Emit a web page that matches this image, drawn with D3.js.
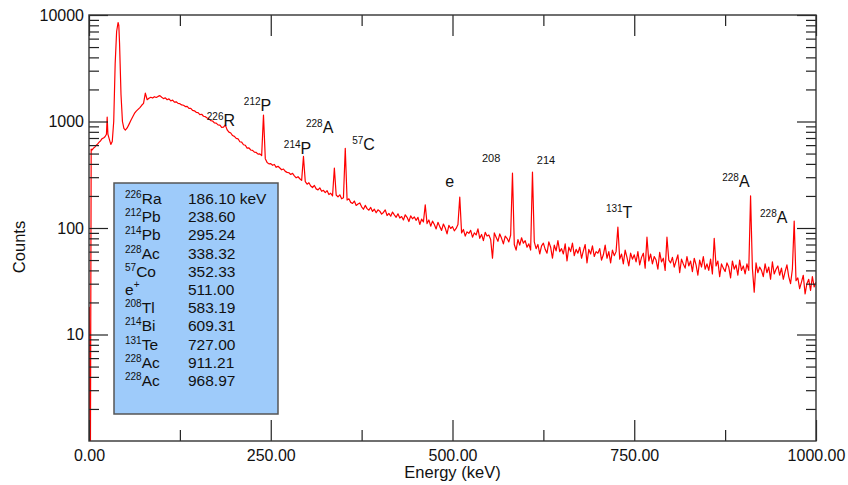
<!DOCTYPE html>
<html>
<head>
<meta charset="utf-8">
<script src="https://cdn.jsdelivr.net/npm/d3@7"></script>
<style>
  body { margin: 0; background: #fff; }
  text { font-family: Arial, "Liberation Sans", sans-serif; fill: #111; }
</style>
</head>
<body>
<script>
// low-energy part of the spectrum (uneven spacing, keV / counts)
const headEnergy = [0, 0.5, 1, 1.5, 2, 3, 4, 6, 8, 10, 12, 14, 16, 18, 20, 22, 24, 25, 26, 28, 30, 32, 34, 36, 38, 40, 41, 42, 44, 46, 48];
const headCounts = [1, 18, 3, 8, 1, 550, 540, 560, 575, 600, 615, 640, 660, 690, 700, 720, 760, 1100, 760, 680, 610, 650, 1000, 3500, 7000, 8500, 8000, 5500, 1800, 1000, 860];

// rest of the spectrum, one value every 2.5 keV from 50 keV
const bodyStart = 50;
const bodyStep = 2.5;
const bodyCounts = [
  830, 870, 940, 1020, 1100, 1190, 1250, 1300, 1350, 1420,
  1480, 1850, 1600, 1650, 1690, 1660, 1710, 1680, 1720, 1750,
  1690, 1640, 1670, 1600, 1630, 1560, 1590, 1520, 1530, 1480,
  1470, 1430, 1420, 1380, 1385, 1330, 1330, 1270, 1260, 1220,
  1210, 1160, 1170, 1120, 1110, 1080, 1060, 1020, 1010, 970,
  965, 930, 925, 880, 885, 930, 835, 795, 780, 738,
  725, 695, 688, 645, 640, 605, 598, 562, 566, 540,
  535, 515, 512, 494, 496, 478, 1150, 448, 412, 400,
  402, 388, 395, 371, 380, 366, 352, 358, 340, 333,
  330, 318, 326, 309, 296, 303, 290, 280, 470, 272,
  258, 266, 248, 240, 251, 233, 228, 238, 221, 226,
  215, 224, 206, 212, 200, 365, 204, 196, 205, 188,
  192, 560, 183, 188, 174, 170, 179, 163, 168, 172,
  158, 150, 163, 152, 147, 156, 143, 150, 139, 148,
  144, 135, 140, 148, 131, 137, 129, 141, 133, 126,
  136, 124, 128, 119, 133, 126, 115, 130, 122, 127,
  118, 126, 108, 121, 114, 165, 110, 119, 104, 116,
  108, 98, 113, 103, 95, 109, 100, 88, 106, 99,
  103, 94, 99, 108, 195, 90, 97, 84, 92, 89,
  95, 82, 90, 86, 98, 80, 87, 76, 91, 84,
  86, 78, 52, 90, 82, 75, 88, 80, 71, 84,
  80, 74, 86, 327, 70, 62, 78, 69, 81, 72,
  76, 66, 71, 62, 335, 74, 64, 70, 57, 68,
  72, 63, 58, 74, 66, 52, 69, 61, 76, 60,
  64, 57, 71, 49, 66, 60, 72, 55, 63, 58,
  66, 52, 61, 70, 47, 63, 57, 68, 54, 60,
  58, 64, 50, 56, 69, 52, 60, 47, 62, 55,
  60, 102, 51, 57, 46, 62, 53, 44, 58, 51,
  56, 48, 60, 45, 53, 58, 42, 82, 49, 57,
  46, 54, 50, 41, 59, 48, 52, 40, 82, 50,
  47, 53, 43, 49, 56, 38, 51, 46, 42, 54,
  44, 49, 39, 52, 45, 36, 50, 43, 54, 41,
  46, 40, 51, 37, 80, 44, 49, 35, 46, 42,
  39, 47, 43, 34, 49, 41, 45, 36, 50, 40,
  44, 37, 46, 40, 200, 42, 25, 47, 38, 43,
  40, 35, 46, 38, 43, 33, 48, 37, 41, 44,
  36, 42, 33, 39, 45, 35, 30, 41, 116, 32,
  34, 27, 31, 36, 24, 30, 33, 26, 35, 28,
  31
];

// axis ticks
const xMajor = [0, 250, 500, 750, 1000];
const xMinor = [125, 375, 625, 875];
const yMajor = [10, 100, 1000, 10000];
const yMinor = [1, 10, 100, 1000].flatMap(d => [2, 3, 4, 5, 6, 7, 8, 9].map(m => m * d));

// legend table
const legendMass = ["226", "212", "214", "228", "57", "", "208", "214", "131", "228", "228"];
const legendSym = ["Ra", "Pb", "Pb", "Ac", "Co", "e", "Tl", "Bi", "Te", "Ac", "Ac"];
const legendSup = ["", "", "", "", "", "+", "", "", "", "", ""];
const legendValue = ["186.10 keV", "238.60", "295.24", "338.32", "352.33", "511.00", "583.19", "609.31", "727.00", "911.21", "968.97"];

// peak annotations (anchor in keV / counts)
const peakMass = ["226", "212", "228", "214", "57", "", "208", "214", "131", "228", "228"];
const peakSym = ["R", "P", "A", "P", "C", "e", "", "", "T", "A", "A"];
const peakAtE = [162, 213, 298.5, 268, 362, 490, 540.5, 616, 711, 871, 923];
const peakAtC = [907, 1255, 780, 495, 540, 243, 417, 399, 124, 243, 111];

const spectrum = headEnergy.map((e, i) => [e, headCounts[i]])
  .concat(bodyCounts.map((c, i) => [bodyStart + i * bodyStep, c]));

const width = 848, height = 485;
const margin = { top: 15, right: 32, bottom: 44, left: 89 };
const iw = width - margin.left - margin.right;
const ih = height - margin.top - margin.bottom;

const x = d3.scaleLinear().domain([0, 1000]).range([0, iw]);
const y = d3.scaleLog().domain([1, 10000]).range([ih, 0]);

const svg = d3.select("body").append("svg")
  .attr("width", width)
  .attr("height", height);

const g = svg.append("g").attr("transform", `translate(${margin.left},${margin.top})`);

g.append("clipPath").attr("id", "plot")
  .append("rect").attr("x", 0).attr("y", 0).attr("width", iw).attr("height", ih);

// spectrum
const line = d3.line()
  .x(d => x(d[0]))
  .y(d => y(d[1]));

g.append("path")
  .datum(spectrum)
  .attr("clip-path", "url(#plot)")
  .attr("fill", "none")
  .attr("stroke", "#ff0000")
  .attr("stroke-width", 1.2)
  .attr("stroke-linejoin", "round")
  .attr("d", line);

// axes
function styleAxis(sel) {
  sel.select(".domain").remove();
  sel.selectAll(".tick line").attr("stroke", "#222").attr("stroke-width", 1.2);
  sel.selectAll("text").style("font-size", "16px").attr("fill", "#111");
}

g.append("g").attr("transform", `translate(0,${ih})`)
  .call(d3.axisBottom(x).tickValues(xMajor).tickSize(-21).tickPadding(9).tickFormat(d3.format(".2f")))
  .call(styleAxis);
g.append("g").attr("transform", `translate(0,${ih})`)
  .call(d3.axisBottom(x).tickValues(xMinor).tickSize(-11).tickFormat(""))
  .call(styleAxis);
g.append("g")
  .call(d3.axisTop(x).tickValues(xMajor).tickSize(-21).tickFormat(""))
  .call(styleAxis);
g.append("g")
  .call(d3.axisTop(x).tickValues(xMinor).tickSize(-11).tickFormat(""))
  .call(styleAxis);

g.append("g")
  .call(d3.axisLeft(y).tickValues(yMajor).tickSize(-19).tickPadding(5).tickFormat(d3.format("d")))
  .call(styleAxis);
g.append("g")
  .call(d3.axisLeft(y).tickValues(yMinor).tickSize(-10).tickFormat(""))
  .call(styleAxis);
g.append("g").attr("transform", `translate(${iw},0)`)
  .call(d3.axisRight(y).tickValues(yMajor).tickSize(-19).tickFormat(""))
  .call(styleAxis);
g.append("g").attr("transform", `translate(${iw},0)`)
  .call(d3.axisRight(y).tickValues(yMinor).tickSize(-10).tickFormat(""))
  .call(styleAxis);

g.append("rect")
  .attr("width", iw).attr("height", ih)
  .attr("fill", "none")
  .attr("stroke", "#333")
  .attr("stroke-width", 1.4);

// axis titles
svg.append("text")
  .attr("x", margin.left + iw / 2)
  .attr("y", 478)
  .attr("text-anchor", "middle")
  .style("font-size", "16.5px")
  .text("Energy (keV)");

svg.append("text")
  .attr("transform", "translate(25,247) rotate(-90)")
  .attr("text-anchor", "middle")
  .style("font-size", "16.5px")
  .text("Counts");

// peak labels
peakSym.forEach((sym, i) => {
  const t = g.append("text")
    .attr("x", x(peakAtE[i]))
    .attr("y", y(peakAtC[i]));
  if (peakMass[i]) {
    t.append("tspan")
      .style("font-size", sym ? "10px" : "11px")
      .attr("dy", sym ? -6 : 0)
      .text(peakMass[i]);
  }
  if (sym) {
    t.append("tspan")
      .style("font-size", "16px")
      .attr("dy", peakMass[i] ? 6 : 0)
      .text(sym);
  }
});

// legend box
const legend = svg.append("g").attr("transform", "translate(114,183)");
legend.append("rect")
  .attr("width", 164).attr("height", 231)
  .attr("fill", "#9ecbfa")
  .attr("stroke", "#555")
  .attr("stroke-width", 1.5);

legendSym.forEach((sym, i) => {
  const yy = 21 + i * 18.2;
  const t = legend.append("text").attr("x", 11).attr("y", yy);
  if (legendMass[i]) {
    t.append("tspan").style("font-size", "10px").attr("dy", -6).text(legendMass[i]);
    t.append("tspan").style("font-size", "15.5px").attr("dy", 6).text(sym);
  } else {
    t.append("tspan").style("font-size", "15.5px").text(sym);
    t.append("tspan").style("font-size", "10px").attr("dy", -7).text(legendSup[i]);
  }
  legend.append("text")
    .attr("x", 74).attr("y", yy)
    .style("font-size", "15.5px")
    .text(legendValue[i]);
});
</script>
</body>
</html>
